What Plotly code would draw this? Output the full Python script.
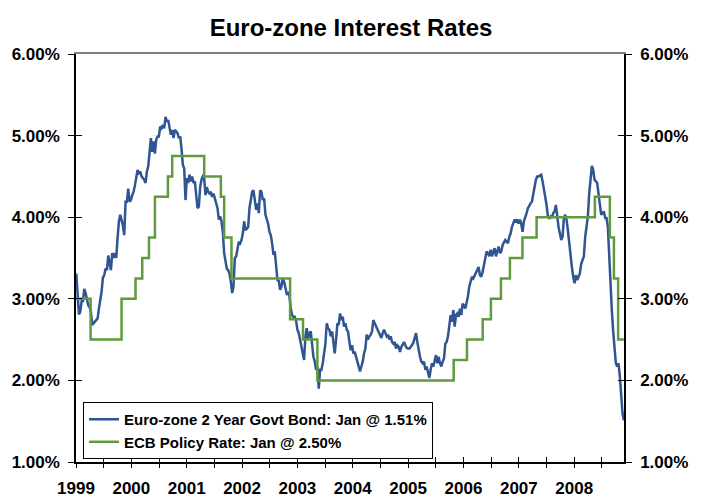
import numpy as np
import plotly.graph_objects as go

title = "Euro-zone Interest Rates"
year_labels = ["1999", "2000", "2001", "2002", "2003", "2004", "2005", "2006", "2007", "2008"]
y_tick_values = [1, 2, 3, 4, 5, 6]
y_tick_labels = ["1.00%", "2.00%", "3.00%", "4.00%", "5.00%", "6.00%"]

bond_name = "Euro-zone 2 Year Govt Bond: Jan @ 1.51%"
ecb_name = "ECB Policy Rate: Jan @ 2.50%"

# evenly spaced observations (decimal years) from first to last date
bond_start = 1999.005
bond_end = 2008.897
bond = [
    3.31, 3.09, 2.81, 2.84, 2.97, 2.97, 3.12, 3.07, 2.99, 2.92,
    2.90, 2.84, 2.68, 2.70, 2.72, 2.74, 2.76, 2.88, 2.97, 3.09,
    3.26, 3.29, 3.37, 3.35, 3.53, 3.42, 3.35, 3.56, 3.50, 3.56,
    3.50, 3.74, 3.95, 4.03, 3.97, 3.90, 3.78, 4.19, 4.19, 4.35,
    4.19, 4.21, 4.27, 4.31, 4.39, 4.48, 4.58, 4.54, 4.56, 4.50,
    4.48, 4.46, 4.42, 4.56, 4.62, 4.84, 4.97, 4.80, 4.93, 4.78,
    4.95, 4.99, 4.99, 5.11, 5.09, 5.13, 5.09, 5.23, 5.17, 5.19,
    5.07, 5.01, 5.07, 4.97, 5.07, 5.05, 5.03, 4.97, 4.99, 4.84,
    4.64, 4.60, 4.21, 4.48, 4.42, 4.52, 4.44, 4.50, 4.42, 4.44,
    4.29, 4.11, 4.13, 4.37, 4.46, 4.50, 4.48, 4.27, 4.37, 4.31,
    4.29, 4.31, 4.25, 4.29, 4.23, 4.15, 4.11, 3.97, 4.01, 3.95,
    3.82, 3.56, 3.45, 3.37, 3.35, 3.31, 3.21, 3.07, 3.15, 3.50,
    3.52, 3.64, 3.70, 3.68, 3.72, 3.80, 3.95, 3.84, 3.86, 3.88,
    4.11, 4.21, 4.31, 4.33, 4.21, 4.09, 4.17, 4.05, 4.33, 4.31,
    4.21, 4.23, 4.03, 3.97, 3.92, 3.82, 3.78, 3.68, 3.54, 3.58,
    3.43, 3.23, 3.22, 3.11, 3.15, 3.25, 3.21, 3.11, 3.06, 3.07,
    3.03, 2.88, 2.80, 2.78, 2.78, 2.73, 2.62, 2.58, 2.50, 2.39,
    2.33, 2.25, 2.54, 2.64, 2.50, 2.58, 2.60, 2.45, 2.29, 2.23,
    2.13, 2.17, 1.90, 2.13, 2.13, 2.21, 2.37, 2.45, 2.70, 2.64,
    2.62, 2.54, 2.60, 2.43, 2.33, 2.50, 2.70, 2.68, 2.82, 2.74,
    2.78, 2.66, 2.70, 2.62, 2.60, 2.47, 2.37, 2.43, 2.33, 2.35,
    2.29, 2.21, 2.15, 2.11, 2.17, 2.23, 2.33, 2.39, 2.56, 2.50,
    2.54, 2.56, 2.60, 2.74, 2.70, 2.66, 2.62, 2.58, 2.54, 2.52,
    2.58, 2.62, 2.58, 2.54, 2.56, 2.50, 2.54, 2.47, 2.45, 2.47,
    2.39, 2.43, 2.41, 2.35, 2.41, 2.45, 2.47, 2.43, 2.40, 2.39,
    2.39, 2.41, 2.43, 2.46, 2.52, 2.58, 2.47, 2.37, 2.29, 2.23,
    2.21, 2.23, 2.13, 2.17, 2.09, 2.03, 2.13, 2.21, 2.17, 2.23,
    2.31, 2.21, 2.29, 2.21, 2.17, 2.23, 2.27, 2.45, 2.47, 2.54,
    2.70, 2.80, 2.72, 2.86, 2.66, 2.80, 2.82, 2.78, 2.88, 2.80,
    2.94, 2.92, 2.88, 2.94, 3.03, 3.15, 3.23, 3.27, 3.25, 3.29,
    3.33, 3.37, 3.39, 3.29, 3.27, 3.33, 3.41, 3.52, 3.58, 3.56,
    3.52, 3.60, 3.52, 3.58, 3.62, 3.52, 3.60, 3.64, 3.56, 3.58,
    3.66, 3.70, 3.72, 3.70, 3.68, 3.76, 3.80, 3.88, 3.92, 3.97,
    3.95, 3.97, 3.92, 3.97, 3.92, 3.82, 3.95, 3.99, 4.05, 4.11,
    4.15, 4.17, 4.19, 4.27, 4.39, 4.46, 4.50, 4.50, 4.51, 4.52,
    4.44, 4.35, 4.26, 4.15, 4.01, 3.99, 4.01, 3.99, 4.05, 4.07,
    4.15, 3.99, 3.88, 3.80, 3.72, 3.76, 3.99, 4.03, 3.97, 3.84,
    3.66, 3.52, 3.39, 3.27, 3.19, 3.29, 3.23, 3.27, 3.31, 3.43,
    3.48, 3.52, 3.76, 3.86, 4.01, 4.29, 4.52, 4.63, 4.58, 4.46,
    4.44, 4.42, 4.29, 4.15, 4.03, 4.05, 4.07, 3.99, 3.99, 3.88,
    3.48, 3.11, 2.86, 2.60, 2.41, 2.21, 2.17, 2.21, 2.05, 1.80,
    1.60, 1.51,
]

ecb_dates = [1999.0, 1999.264, 1999.823, 2000.076, 2000.197, 2000.318, 2000.426,
             2000.661, 2000.738, 2001.316, 2001.617, 2001.677, 2001.809, 2002.868,
             2003.101, 2003.361, 2005.823, 2006.063, 2006.347, 2006.496, 2006.677,
             2006.839, 2007.065, 2007.321, 2008.374, 2008.645, 2008.718, 2008.794,
             2008.897]
ecb_rate = [3.00, 2.50, 3.00, 3.25, 3.50, 3.75, 4.25,
            4.50, 4.75, 4.50, 4.25, 3.75, 3.25, 2.75,
            2.50, 2.00, 2.25, 2.50, 2.75, 3.00, 3.25,
            3.50, 3.75, 4.00, 4.25, 3.75, 3.25, 2.50,
            2.50]

x_range = [1999.0, 2008.9]
first_year = int(year_labels[0])
x_tick_vals = [first_year + 0.5 * i for i in range(2 * len(year_labels))]
x_tick_text = [year_labels[i // 2] if i % 2 == 0 else "" for i in range(2 * len(year_labels))]

bond_x = np.linspace(bond_start, bond_end, len(bond))

BLUE = "#2f5592"
GREEN = "#5f9a3c"
FONT = "Liberation Sans, Arial, sans-serif"

fig = go.Figure()
fig.add_trace(go.Scatter(x=bond_x, y=bond, mode="lines", name=bond_name,
                         line=dict(color=BLUE, width=2.5), hoverinfo="skip"))
fig.add_trace(go.Scatter(x=ecb_dates, y=ecb_rate, mode="lines", name=ecb_name,
                         line=dict(color=GREEN, width=2.5, shape="hv"), hoverinfo="skip"))
# helper (invisible) traces so the extra tick axes are drawn
for xa, ya in [("x2", "y2"), ("x3", "y3"), ("x2", "y4")]:
    fig.add_trace(go.Scatter(x=ecb_dates, y=ecb_rate, mode="lines", xaxis=xa, yaxis=ya,
                             line=dict(width=0), opacity=0, showlegend=False, hoverinfo="skip"))

tickfont = dict(family=FONT, size=17, color="black", weight=600)
common_x = dict(range=x_range, tickmode="array", tickvals=x_tick_vals, showgrid=False,
                zeroline=False, automargin=False)
common_y = dict(range=[1, 6], tickmode="array", tickvals=y_tick_values, showgrid=False,
                zeroline=False, automargin=False)

fig.update_layout(
    template="none",
    width=702, height=497,
    margin=dict(l=76, r=78, t=54, b=35, autoexpand=False),
    paper_bgcolor="white", plot_bgcolor="white",
    title=dict(text=f"<b>{title}</b>", x=0.5, xanchor="center", y=0.944, yanchor="middle",
               font=dict(family=FONT, size=24, color="black"), automargin=False),
    showlegend=True,
    legend=dict(x=0.0128, y=0.147, xanchor="left", yanchor="top",
                bgcolor="white", bordercolor="black", borderwidth=1,
                font=dict(family=FONT, size=15, color="black", weight=600),
                tracegroupgap=0, itemwidth=30),
    xaxis=dict(**common_x, ticktext=x_tick_text, ticks="outside", ticklen=4, tickwidth=1,
               tickcolor="black", showline=True, linecolor="black", linewidth=1.5,
               tickfont=tickfont, ticklabelstandoff=6),
    xaxis2=dict(**common_x, overlaying="x", matches="x", side="bottom", anchor="y",
                ticks="inside", ticklen=5, tickwidth=1, tickcolor="black",
                showticklabels=False, showline=False),
    xaxis3=dict(**common_x, overlaying="x", matches="x", side="top", anchor="y",
                ticks="", showticklabels=False, showline=True, linecolor="#808080", linewidth=2),
    yaxis=dict(**common_y, ticktext=y_tick_labels, ticks="outside", ticklen=6, tickwidth=1,
               tickcolor="black", showline=True, linecolor="black", linewidth=1.5,
               tickfont=tickfont, ticklabelstandoff=5),
    yaxis2=dict(**common_y, overlaying="y", matches="y", side="left", anchor="x",
                ticks="inside", ticklen=6, tickwidth=1, tickcolor="black",
                showticklabels=False, showline=False),
    yaxis3=dict(**common_y, ticktext=y_tick_labels, overlaying="y", matches="y", side="right",
                anchor="x", ticks="outside", ticklen=6, tickwidth=1, tickcolor="black",
                showline=True, linecolor="black", linewidth=1.5,
                tickfont=tickfont, ticklabelstandoff=5),
    yaxis4=dict(**common_y, overlaying="y", matches="y", side="right", anchor="x",
                ticks="inside", ticklen=6, tickwidth=1, tickcolor="black",
                showticklabels=False, showline=False),
)

fig.write_html("out.html", config={"displayModeBar": False},
               post_script="document.body.style.margin='0';")
